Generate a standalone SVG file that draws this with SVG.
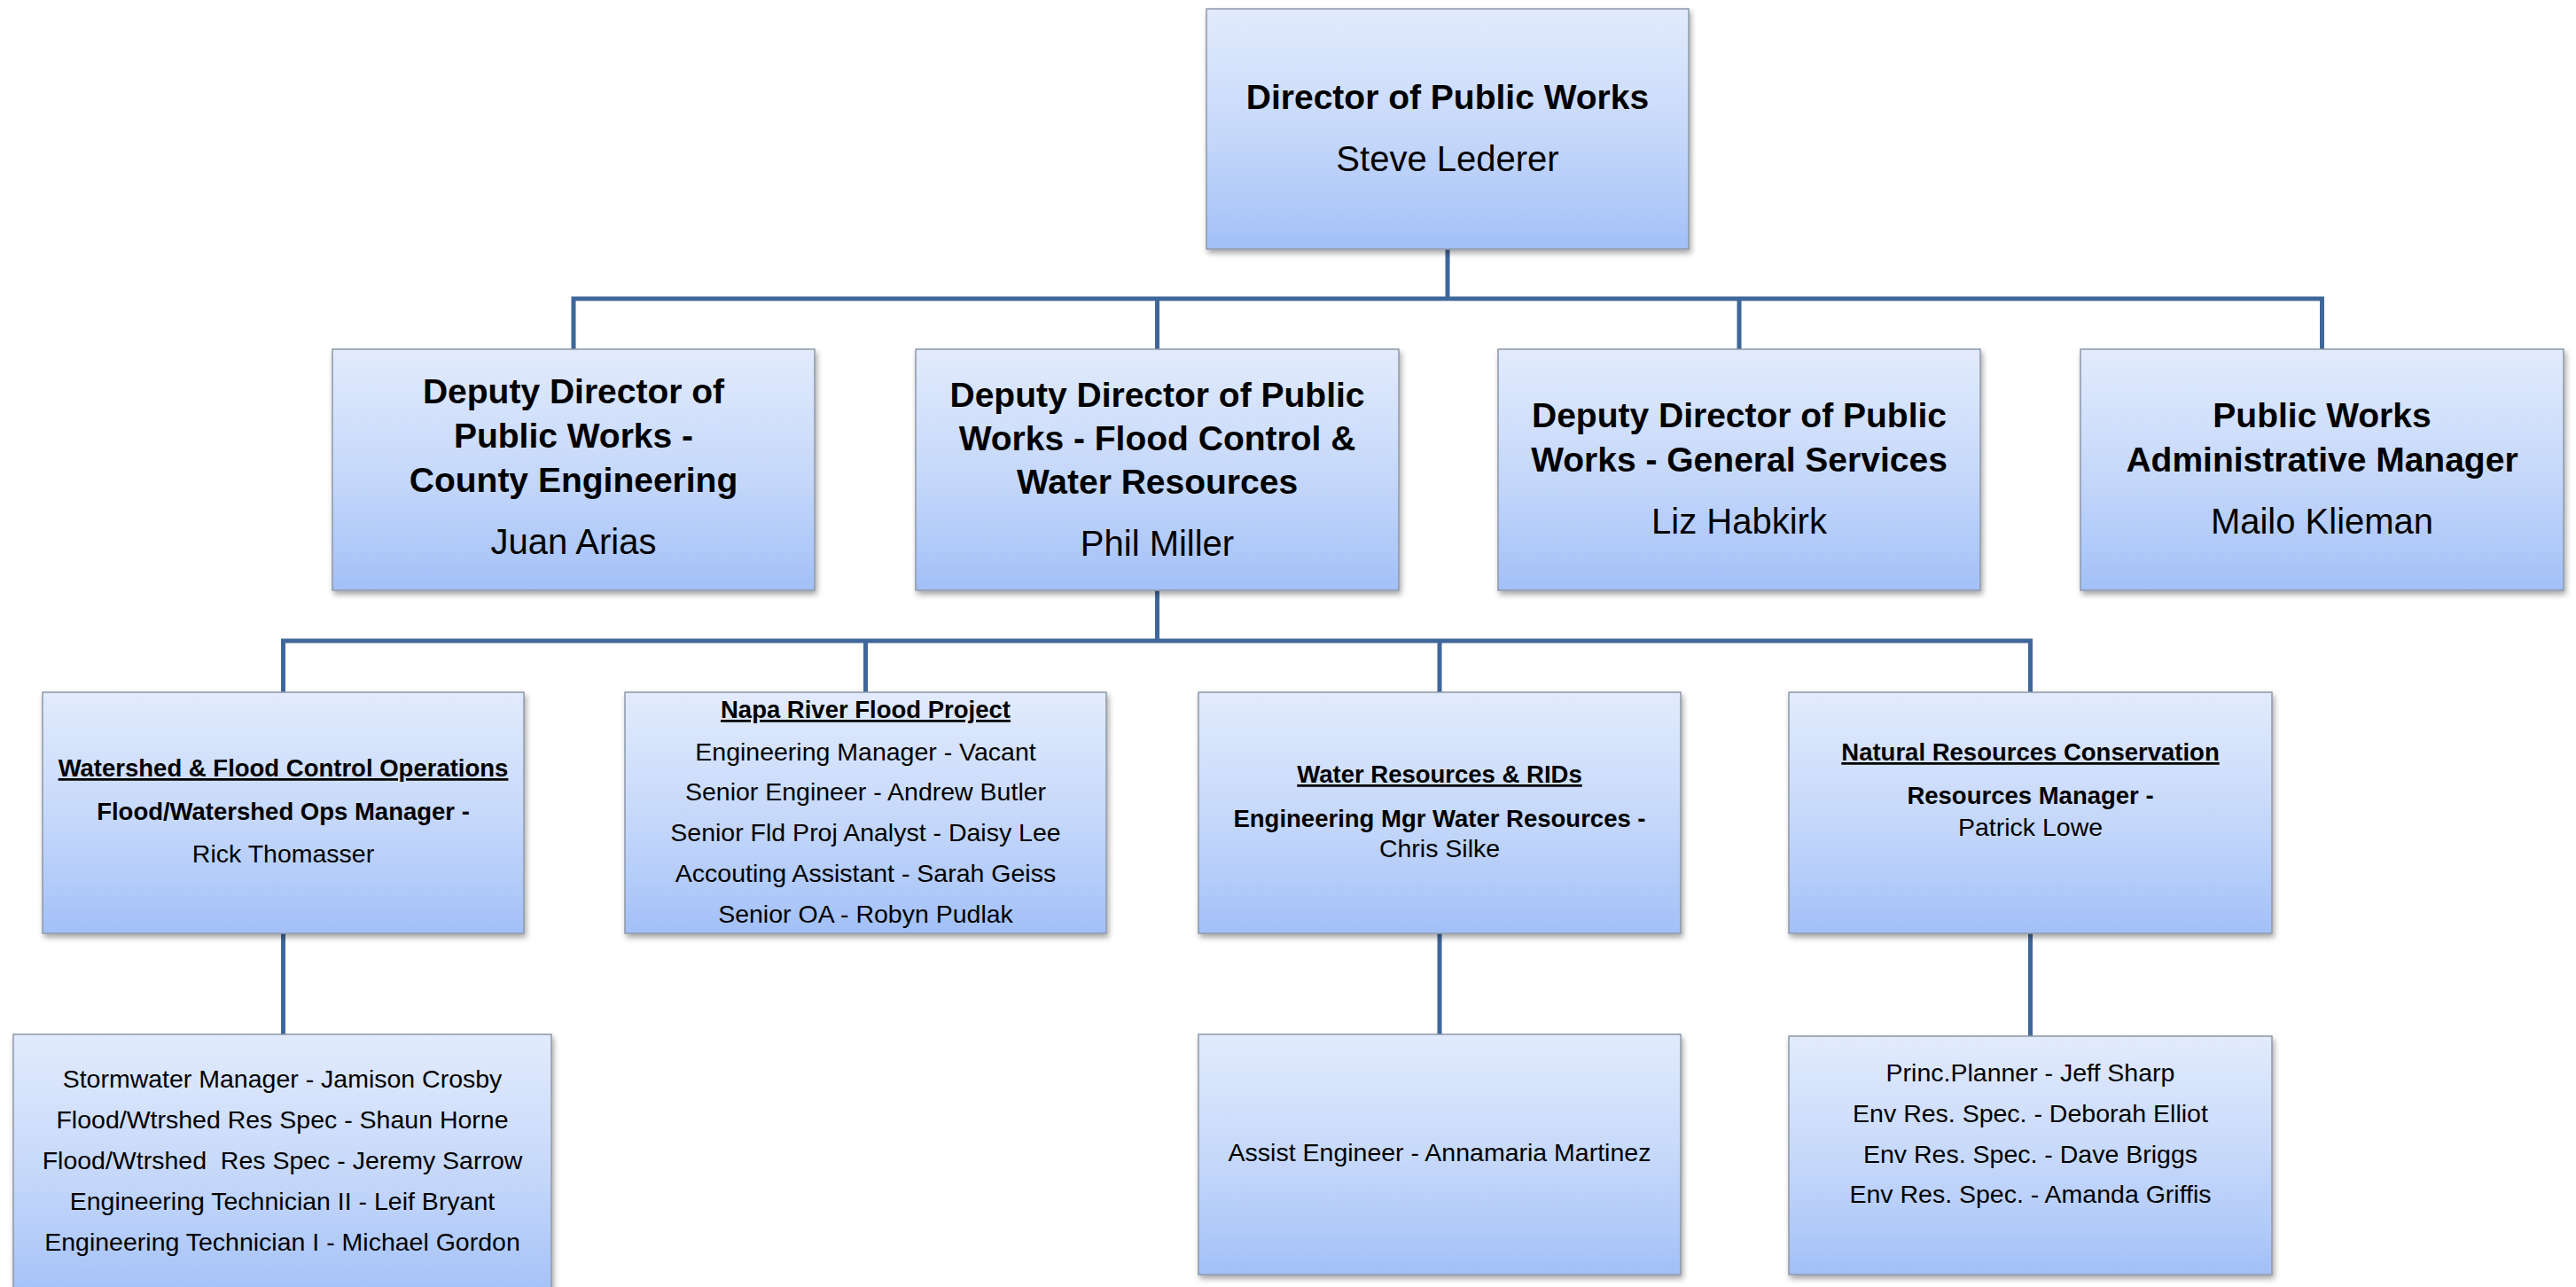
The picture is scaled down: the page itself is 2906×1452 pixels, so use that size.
<svg xmlns="http://www.w3.org/2000/svg" width="2906" height="1452" viewBox="0 0 2906 1452">
<defs>
<linearGradient id="boxfill" x1="0" y1="0" x2="0" y2="1">
<stop offset="0" stop-color="#E2EBFC"/>
<stop offset="0.55" stop-color="#C4D7FA"/>
<stop offset="1" stop-color="#A2C0F7"/>
</linearGradient>
<filter id="shadow" x="-5%" y="-5%" width="110%" height="115%">
<feDropShadow dx="2" dy="4" stdDeviation="3" flood-color="#000" flood-opacity="0.35"/>
</filter>
</defs>
<style>
.box{fill:url(#boxfill);stroke:#8D98AA;stroke-width:1.5;filter:url(#shadow)}
.conn{fill:none;stroke:#3F679A;stroke-width:5;stroke-linecap:square;stroke-linejoin:miter}
text{font-family:"Liberation Sans",Arial,sans-serif;fill:#000;text-anchor:middle}
.t2{font-size:39px;font-weight:bold}
.n2{font-size:40px}
.t3{font-size:27.5px;font-weight:bold}
.u3{font-size:27.5px;font-weight:bold;text-decoration:underline}
.r3{font-size:28.5px}
</style>
<rect width="2906" height="1452" fill="#fff"/>
<g id="connectors">
<path class="conn" d="M1633 281 V337 M647 394 V337 H2619.5 V394 M1305.5 337 V394 M1962 337 V394"/>
<path class="conn" d="M1305.5 666 V723 M319.5 781 V723 H2290.5 V781 M976.5 723 V781 M1624 723 V781"/>
<path class="conn" d="M319.5 1053 V1167 M1624 1053 V1167 M2290.5 1053 V1169"/>
</g>
<g id="director">
<rect class="box" x="1361" y="10" width="544" height="271"/>
<text class="t2" x="1633" y="123">Director of Public Works</text>
<text class="n2" x="1633" y="193">Steve Lederer</text>
</g>
<g id="deputy-engineering">
<rect class="box" x="375" y="394" width="544" height="272"/>
<text class="t2" x="647" y="455">Deputy Director of</text>
<text class="t2" x="647" y="505">Public Works -</text>
<text class="t2" x="647" y="555">County Engineering</text>
<text class="n2" x="647" y="625">Juan Arias</text>
</g>
<g id="deputy-flood">
<rect class="box" x="1033" y="394" width="545" height="272"/>
<text class="t2" x="1305.5" y="459">Deputy Director of Public</text>
<text class="t2" x="1305.5" y="508">Works - Flood Control &amp;</text>
<text class="t2" x="1305.5" y="557">Water Resources</text>
<text class="n2" x="1305.5" y="627">Phil Miller</text>
</g>
<g id="deputy-general">
<rect class="box" x="1690" y="394" width="544" height="272"/>
<text class="t2" x="1962" y="482">Deputy Director of Public</text>
<text class="t2" x="1962" y="532">Works - General Services</text>
<text class="n2" x="1962" y="602">Liz Habkirk</text>
</g>
<g id="admin-manager">
<rect class="box" x="2347" y="394" width="545" height="272"/>
<text class="t2" x="2619.5" y="482">Public Works</text>
<text class="t2" x="2619.5" y="532">Administrative Manager</text>
<text class="n2" x="2619.5" y="602">Mailo Klieman</text>
</g>
<g id="watershed-ops">
<rect class="box" x="48" y="781" width="543" height="272"/>
<text class="u3" x="319.5" y="876">Watershed &amp; Flood Control Operations</text>
<text class="t3" x="319.5" y="925">Flood/Watershed Ops Manager -</text>
<text class="r3" x="319.5" y="973">Rick Thomasser</text>
</g>
<g id="napa-river">
<rect class="box" x="705" y="781" width="543" height="272"/>
<text class="u3" x="976.5" y="810">Napa River Flood Project</text>
<text class="r3" x="976.5" y="858">Engineering Manager - Vacant</text>
<text class="r3" x="976.5" y="903">Senior Engineer - Andrew Butler</text>
<text class="r3" x="976.5" y="949">Senior Fld Proj Analyst - Daisy Lee</text>
<text class="r3" x="976.5" y="995">Accouting Assistant - Sarah Geiss</text>
<text class="r3" x="976.5" y="1041">Senior OA - Robyn Pudlak</text>
</g>
<g id="water-resources">
<rect class="box" x="1352" y="781" width="544" height="272"/>
<text class="u3" x="1624" y="883">Water Resources &amp; RIDs</text>
<text class="t3" x="1624" y="933">Engineering Mgr Water Resources -</text>
<text class="r3" x="1624" y="967">Chris Silke</text>
</g>
<g id="natural-resources">
<rect class="box" x="2018" y="781" width="545" height="272"/>
<text class="u3" x="2290.5" y="858">Natural Resources Conservation</text>
<text class="t3" x="2290.5" y="907">Resources Manager -</text>
<text class="r3" x="2290.5" y="943">Patrick Lowe</text>
</g>
<g id="stormwater-staff">
<rect class="box" x="15" y="1167" width="607" height="300"/>
<text class="r3" x="318.5" y="1227">Stormwater Manager - Jamison Crosby</text>
<text class="r3" x="318.5" y="1273">Flood/Wtrshed Res Spec - Shaun Horne</text>
<text class="r3" x="318.5" y="1319" xml:space="preserve" style="white-space:pre">Flood/Wtrshed  Res Spec - Jeremy Sarrow</text>
<text class="r3" x="318.5" y="1365">Engineering Technician II - Leif Bryant</text>
<text class="r3" x="318.5" y="1411">Engineering Technician I - Michael Gordon</text>
</g>
<g id="assist-engineer">
<rect class="box" x="1352" y="1167" width="544" height="271"/>
<text class="r3" x="1624" y="1310">Assist Engineer - Annamaria Martinez</text>
</g>
<g id="conservation-staff">
<rect class="box" x="2018" y="1169" width="545" height="269"/>
<text class="r3" x="2290.5" y="1220">Princ.Planner - Jeff Sharp</text>
<text class="r3" x="2290.5" y="1266">Env Res. Spec. - Deborah Elliot</text>
<text class="r3" x="2290.5" y="1312">Env Res. Spec. - Dave Briggs</text>
<text class="r3" x="2290.5" y="1357">Env Res. Spec. - Amanda Griffis</text>
</g>
</svg>
